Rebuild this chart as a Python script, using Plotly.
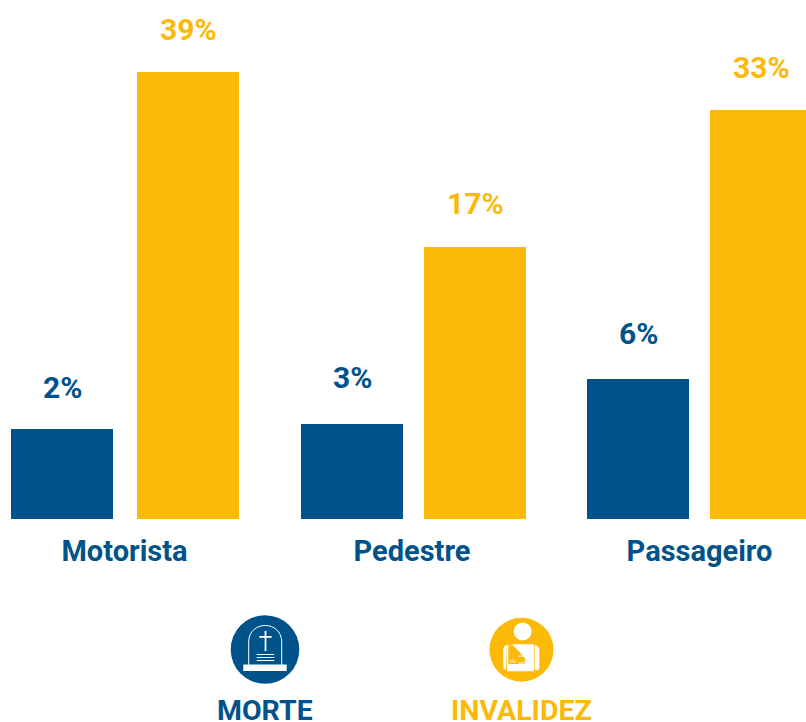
import plotly.graph_objects as go

categories = ["Motorista", "Pedestre", "Passageiro"]
# Bar heights as drawn in the reference (they are not proportional to the printed labels)
morte_heights = [90, 95, 140]
invalidez_heights = [447, 272, 409]
morte_labels = ["2%", "3%", "6%"]
invalidez_labels = ["39%", "17%", "33%"]
legend_labels = ["MORTE", "INVALIDEZ"]

BLUE = "#00538A"
YELLOW = "#FCB907"
FONT = "Roboto"
W, H = 806, 722
BASE = 519
GROUP0, STEP = 124.5, 287.5
BAR_W = 102 / STEP
morte_left = [11, 301, 587]
inval_left = [137, 424, 710]
morte_off = [(morte_left[i] - (GROUP0 + i * STEP)) / STEP for i in range(3)]
inval_off = [(inval_left[i] - (GROUP0 + i * STEP)) / STEP for i in range(3)]


def px(x):
    return x / W


def py(y):
    return (BASE - y) / BASE


fig = go.Figure()
fig.add_bar(x=categories, y=morte_heights, name=legend_labels[0], marker_color=BLUE,
            width=BAR_W, offset=morte_off, marker_line_width=0)
fig.add_bar(x=categories, y=invalidez_heights, name=legend_labels[1], marker_color=YELLOW,
            width=BAR_W, offset=inval_off, marker_line_width=0)

annotations = []
for i in range(3):
    annotations.append(dict(x=i + morte_off[i] + BAR_W / 2, y=morte_heights[i], xref="x", yref="y",
                            text=morte_labels[i], showarrow=False, yshift=[42, 47, 46][i],
                            xanchor="center", yanchor="middle",
                            font=dict(family=FONT, size=30, color=BLUE, weight="bold")))
    annotations.append(dict(x=i + inval_off[i] + BAR_W / 2, y=invalidez_heights[i], xref="x", yref="y",
                            text=invalidez_labels[i], showarrow=False, yshift=[43, 44, 43][i],
                            xanchor="center", yanchor="middle",
                            font=dict(family=FONT, size=30, color=YELLOW, weight="bold")))
for label, cx, col in [(legend_labels[0], 265, BLUE), (legend_labels[1], 521.5, YELLOW)]:
    annotations.append(dict(x=px(cx), y=py(710), xref="paper", yref="paper", text=label,
                            showarrow=False, xanchor="center", yanchor="middle", height=22, valign="middle",
                            font=dict(family=FONT, size=28.5, color=col, weight="bold")))


def circle(cx, cy, r, color):
    return dict(type="circle", xref="paper", yref="paper", x0=px(cx - r), x1=px(cx + r),
                y0=py(cy + r), y1=py(cy - r), fillcolor=color, line_width=0, layer="above")


def rect(x0, y0, x1, y1, color):
    return dict(type="rect", xref="paper", yref="paper", x0=px(x0), x1=px(x1),
                y0=py(y1), y1=py(y0), fillcolor=color, line_width=0, layer="above")


def path(points, color, fill=None, w=1.0):
    parts = []
    for cmd, *xy in points:
        coords = " ".join(f"{px(xy[k]):.5f},{py(xy[k + 1]):.5f}" for k in range(0, len(xy), 2))
        parts.append(f"{cmd} {coords}".strip())
    return dict(type="path", xref="paper", yref="paper", path=" ".join(parts),
                line=dict(color=color, width=w), fillcolor=fill or "rgba(0,0,0,0)", layer="above")


def z(*c):
    # positions inside the 3x crop of the injured-person icon
    out = []
    for k in range(0, len(c), 2):
        out += [485 + c[k] / 3, 612 + c[k + 1] / 3]
    return out


shapes = [
    # tombstone icon
    circle(265, 649.5, 34.3, BLUE),
    path([("M", 248.7, 665), ("L", 248.7, 642), ("C", 248.7, 620, 281.7, 620, 281.7, 642), ("L", 281.7, 665)],
         "white", w=1.0),
    rect(243.3, 664.5, 286.7, 671, "white"),
    rect(264.6, 631, 266.4, 651, "white"),
    rect(259.3, 636, 271.7, 637.8, "white"),
    rect(256.7, 654, 274.3, 655, "white"),
    rect(256.7, 657, 274.3, 658, "white"),
    rect(256.7, 660, 274.3, 661, "white"),
    # injured person icon
    circle(521.5, 649.7, 32, YELLOW),
    circle(522.7, 631.5, 9, "white"),
    # left arm
    path([("M", *z(55, 172)), ("L", *z(55, 112)), ("C", *z(55, 104, 60, 100, 66, 99)), ("L", *z(63, 172)), ("Z",)],
         "white", fill="white", w=0),
    # torso
    path([("M", *z(88, 97)), ("L", *z(147, 97)), ("L", *z(147, 178)), ("L", *z(66, 178)), ("L", *z(66, 100)),
          ("Z",)], "white", fill="white", w=0),
    # sling cut-out
    path([("M", *z(70, 100)), ("L", *z(84, 100)), ("L", *z(118, 136)), ("L", *z(124, 146)), ("L", *z(118, 156)),
          ("L", *z(70, 156)), ("Z",)], YELLOW, fill=YELLOW, w=0),
    # forearm outline and fingers
    path([("M", *z(100, 132)), ("L", *z(114, 132)), ("C", *z(124, 134, 124, 152, 112, 153)),
          ("L", *z(100, 153))], "white", w=1.0),
    path([("M", *z(78, 153)), ("L", *z(78, 143)), ("M", *z(84, 153)), ("L", *z(84, 141)), ("M", *z(90, 153)),
          ("L", *z(90, 145))], "white", w=0.8),
    # right arm
    path([("M", *z(149, 99)), ("C", *z(158, 100, 163, 106, 163, 114)), ("L", *z(163, 170)),
          ("C", *z(162, 176, 150, 176, 149, 170)), ("Z",)], "white", fill="white", w=0),
]

fig.update_layout(
    width=W, height=H, autosize=False, showlegend=False, barmode="overlay",
    margin=dict(l=0, r=0, t=0, b=H - BASE, pad=0),
    paper_bgcolor="white", plot_bgcolor="white",
    xaxis=dict(type="category", range=[-GROUP0 / STEP, (W - GROUP0) / STEP], showgrid=False, zeroline=False,
               showline=False, ticks="outside", ticklen=6, tickcolor="rgba(0,0,0,0)",
               tickfont=dict(family=FONT, size=29, color=BLUE, weight="bold")),
    yaxis=dict(range=[0, BASE], visible=False, showgrid=False, zeroline=False),
    annotations=annotations, shapes=shapes,
)
fig.write_html("out.html", config={"displayModeBar": False},
               post_script="document.body.style.margin='0';document.documentElement.style.overflow='hidden';")
